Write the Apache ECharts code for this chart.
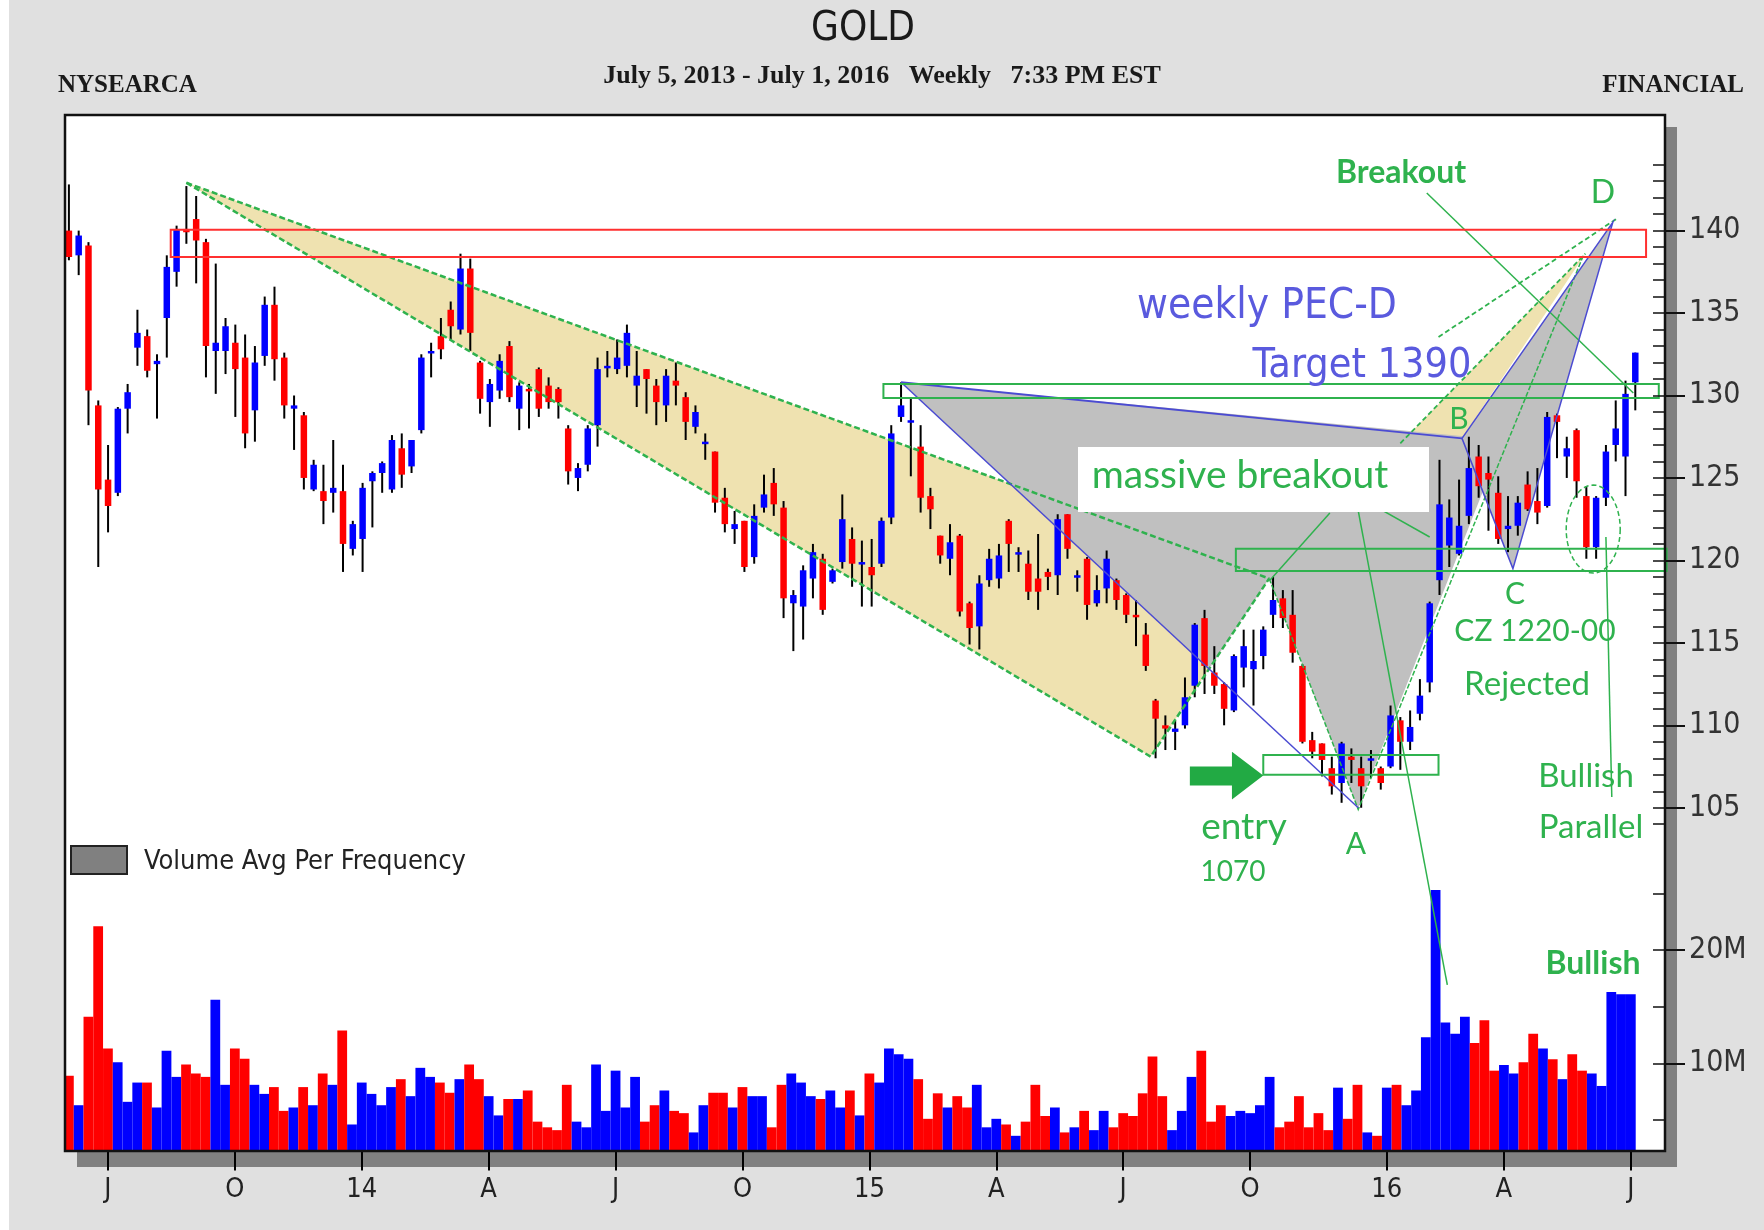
<!DOCTYPE html>
<html>
<head>
<meta charset="utf-8">
<title>GOLD weekly</title>
<script src="https://cdn.jsdelivr.net/npm/echarts/dist/echarts.min.js"></script>
<style>
  html, body { margin: 0; padding: 0; background: #e0e0e0; }
  #chart { width: 1764px; height: 1230px; }
</style>
</head>
<body>
<div id="chart"></div>
<script>
// weekly bars from the week of 2013-06-07: [open, high, low, close]
const weeklyBars = [
  [140.0,142.8,138.2,138.4],[138.5,140.0,137.3,139.7],[139.1,139.3,128.2,130.3],[129.4,129.7,119.6,124.3],
  [124.9,127.0,121.7,123.3],[124.1,129.3,123.9,129.2],[129.2,130.7,127.7,130.2],[132.9,135.2,131.8,133.8],
  [133.6,134.0,131.1,131.5],[131.9,132.5,128.6,132.1],[134.7,138.5,132.3,137.8],[137.5,140.3,136.6,140.1],
  [140.1,142.7,139.2,139.9],[140.7,142.1,136.8,139.4],[139.3,139.5,131.1,133.0],[132.7,138.0,130.1,133.2],
  [132.7,134.7,131.3,134.2],[133.2,134.3,128.7,131.6],[132.3,133.7,126.8,127.7],[129.1,133.0,127.2,132.0],
  [132.4,136.0,131.8,135.5],[135.5,136.6,130.9,132.2],[132.3,132.6,128.6,129.4],[129.2,130.0,126.7,129.4],
  [128.8,129.0,124.3,125.0],[124.3,126.1,124.2,125.8],[124.2,125.8,122.2,123.6],[124.1,127.3,122.9,124.4],
  [124.2,125.8,119.3,121.0],[120.7,122.4,120.3,122.2],[121.3,124.7,119.3,124.4],[124.8,125.4,122.0,125.3],
  [125.3,126.0,124.1,125.9],[124.3,127.6,124.1,127.3],[126.8,127.7,124.4,125.2],[125.7,127.3,125.3,127.3],
  [127.9,132.5,127.7,132.3],[132.6,133.2,131.1,132.7],[133.6,134.7,132.2,132.8],[135.2,135.7,133.4,134.2],
  [134.0,138.6,133.7,137.7],[137.7,138.3,132.7,133.8],[132.0,132.1,128.9,129.8],[129.6,131.0,128.1,130.7],
  [130.3,132.5,129.8,132.1],[133.0,133.3,129.6,129.9],[129.2,130.8,127.9,130.6],[130.4,130.7,128.0,130.3],
  [131.6,131.7,128.7,129.2],[130.6,131.1,129.2,129.6],[130.4,130.5,128.6,129.6],[128.0,128.2,124.6,125.4],
  [125.0,125.9,124.2,125.6],[125.8,128.2,125.4,128.0],[128.2,132.3,126.9,131.6],[131.7,132.7,131.1,131.8],
  [131.6,133.4,131.3,132.3],[131.8,134.3,131.1,133.8],[130.6,132.7,129.3,131.2],[131.6,131.6,128.9,131.0],
  [130.6,131.0,128.2,129.6],[129.4,131.6,128.4,131.2],[130.9,132.0,129.4,130.6],[129.9,130.2,127.3,128.4],
  [128.1,129.4,127.7,129.0],[127.1,127.7,126.1,127.2],[126.6,126.6,122.9,123.5],[123.8,124.4,121.7,122.2],
  [121.9,123.0,121.0,122.2],[122.4,122.4,119.3,119.6],[120.2,123.4,119.8,122.7],[123.2,125.2,122.9,124.0],
  [124.7,125.6,122.7,123.4],[123.2,123.6,116.5,117.7],[117.4,118.2,114.5,117.9],[117.2,119.7,115.2,119.4],
  [118.9,121.0,117.7,120.5],[120.1,120.4,116.7,117.0],[118.7,119.5,118.6,119.4],[119.9,124.0,119.5,122.5],
  [121.3,122.0,118.4,119.8],[119.8,121.2,117.2,119.9],[119.6,121.3,117.2,119.1],[119.8,122.6,119.6,122.4],
  [122.6,128.2,122.2,127.7],[128.7,130.8,128.4,129.4],[128.4,129.8,125.1,128.5],[126.9,128.2,122.9,123.8],
  [123.9,124.4,121.9,123.1],[121.5,121.5,119.8,120.3],[120.1,122.2,119.1,121.1],[121.5,121.6,116.6,116.9],
  [117.4,117.5,114.9,115.9],[116.0,119.1,114.6,118.6],[118.8,120.7,118.4,120.1],[118.9,121.0,118.3,120.3],
  [122.4,122.5,119.3,121.0],[120.4,120.8,119.3,120.5],[119.8,120.6,117.6,118.1],[118.9,121.6,117.0,118.1],
  [119.3,119.5,118.2,119.0],[119.1,122.8,117.9,122.5],[122.8,122.8,120.1,120.7],[119.0,119.4,118.1,119.1],
  [120.1,120.2,116.4,117.3],[117.4,119.1,117.2,118.2],[118.3,120.6,117.4,120.1],[118.8,118.9,117.0,117.6],
  [117.9,118.0,116.2,116.7],[116.7,117.6,114.8,116.6],[115.5,116.2,113.3,113.6],[111.5,111.6,108.0,110.4],
  [110.0,110.6,108.5,109.8],[109.6,110.3,108.5,109.8],[110.0,112.9,109.8,111.7],[112.4,116.2,111.7,116.1],
  [116.5,117.0,111.9,113.6],[113.2,114.8,111.9,112.4],[112.5,112.6,110.0,111.0],[110.9,114.3,110.8,114.2],
  [113.5,115.8,112.3,114.8],[113.4,115.8,111.2,113.9],[114.2,116.0,113.4,115.8],[116.7,119.0,115.9,117.6],
  [117.7,118.2,115.9,116.5],[116.7,118.2,113.8,114.4],[113.6,113.7,108.9,109.0],[109.1,109.6,108.0,108.4],
  [108.9,108.9,106.9,107.9],[107.4,108.1,105.8,106.3],[106.5,109.0,105.3,108.9],[108.1,108.6,106.5,107.9],
  [107.4,108.1,105.0,106.3],[107.9,108.5,106.8,108.0],[107.4,107.5,106.1,106.5],[107.5,111.2,107.4,110.6],
  [110.3,110.5,107.3,109.0],[109.0,110.9,108.5,109.9],[110.7,112.8,110.3,111.8],[112.6,117.5,112.0,117.4],
  [118.8,126.1,117.9,123.4],[120.9,123.7,119.6,122.6],[120.4,124.9,120.3,122.1],[122.7,127.5,122.2,125.6],
  [126.3,127.0,123.8,124.5],[125.3,126.3,121.8,124.9],[124.1,125.1,121.0,121.3],[121.9,123.9,120.5,122.1],
  [122.1,123.9,121.5,123.5],[124.6,125.4,123.0,123.1],[123.6,125.6,122.2,122.9],[123.3,129.0,123.2,128.7],
  [128.8,128.9,126.2,128.4],[126.3,127.5,125.0,126.8],[127.9,128.0,123.8,124.8],[123.9,124.5,120.1,120.8],
  [120.8,123.9,120.1,123.8],[123.8,127.0,123.3,126.6],[127.0,129.7,126.0,128.0],[126.3,130.9,123.9,130.1],
  [130.8,132.6,129.1,132.6]
];

// weekly volume, millions of shares
const volumeM = [
  8.9, 6.3, 14.1, 22.1, 11.3, 10.1, 6.6, 8.3, 8.3, 6.1,
  11.1, 8.8, 9.9, 9.1, 8.8, 15.6, 8.1, 11.3, 10.4, 8.1,
  7.3, 7.9, 5.8, 6.1, 7.9, 6.3, 9.1, 8.1, 12.9, 4.6,
  8.3, 7.3, 6.3, 7.9, 8.6, 7.1, 9.6, 8.8, 8.3, 7.4,
  8.6, 9.9, 8.6, 7.1, 5.4, 6.85, 6.85, 7.6, 4.85, 4.35,
  4.1, 8.1, 4.85, 4.35, 9.9, 5.8, 9.35, 6.1, 8.8, 4.85,
  6.3, 7.6, 5.8, 5.6, 3.9, 6.3, 7.4, 7.4, 6.1, 7.9,
  7.1, 7.1, 4.35, 8.1, 9.1, 8.3, 7.1, 6.85, 7.6, 6.1,
  7.6, 5.4, 9.1, 8.3, 11.3, 10.8, 10.4, 8.6, 5.1, 7.35,
  6.1, 7.1, 6.1, 8.1, 4.35, 5.1, 4.6, 3.6, 4.85, 8.1,
  5.35, 6.1, 3.9, 4.35, 5.8, 4.1, 5.8, 4.35, 5.6, 5.35,
  7.35, 10.6, 7.1, 4.1, 5.8, 8.8, 11.1, 4.85, 6.3, 5.35,
  5.8, 5.6, 6.3, 8.8, 4.35, 4.85, 7.1, 4.35, 5.6, 4.1,
  7.85, 5.1, 8.1, 3.9, 3.6, 7.85, 8.1, 6.3, 7.6, 12.3,
  25.3, 13.6, 12.6, 14.1, 11.8, 13.8, 9.35, 9.85, 9.1, 10.1,
  12.6, 11.3, 10.35, 8.6, 10.8, 9.35, 9.1, 8.0, 16.3, 16.1,
  16.1
];

// quarter marks on the time axis (bar index -> label)
const quarterTicks = { 4: 'J', 17: 'O', 30: '14', 43: 'A', 56: 'J', 69: 'O', 82: '15',
  95: 'A', 108: 'J', 121: 'O', 135: '16', 147: 'A', 160: 'J' };

// drawn annotations, points are [bar index, price]
const redZone = [[10.4, 140.05], [161.1, 138.4]];
const wedgeZone = [[12.0, 142.9], [122.6, 118.9], [110.5, 108.1]];
const sliverZone = [[136.0, 127.1], [154.9, 138.6], [142.3, 127.4]];
const grayZoneXA = [[85.0, 130.8], [131.7, 105.0], [146.5, 127.3]];
const grayZoneCD = [[142.3, 127.4], [147.5, 119.5], [157.7, 140.5]];
const clearZone = [[110.5, 108.1], [122.6, 118.9], [131.7, 104.9]];
const boxes130 = [[83.2, 130.7], [162.4, 129.85]];
const boxes120 = [[119.2, 120.7], [163.2, 119.36]];
const entryBox = [[122.0, 108.2], [139.9, 107.0]];
const entryArrow = [[114.5, 107.5], [118.8, 107.5], [118.8, 108.4], [122.0, 106.95],
  [118.8, 105.5], [118.8, 106.35], [114.5, 106.35]];
const wedgeUpper = [[12.0, 142.9], [122.6, 118.9]];
const wedgeLower = [[12.0, 142.9], [110.5, 108.1], [122.6, 118.9]];
const legsBA = [[122.6, 118.9], [131.7, 104.9], [154.7, 138.5]];
const sliverEdge = [[136.0, 127.1], [154.9, 138.6]];
const pecdPointer = [[139.9, 133.55], [158.2, 140.76]];
const breakoutPointer = [[138.7, 142.28], [159.8, 130.15]];
const labelToB = [[128.8, 122.87], [122.7, 118.81]];
const labelToBar = [[131.4, 123.96], [139.0, 121.42]];
const labelToVolume = [[131.4, 123.96], [140.8, 94.26]];
const parallelLine = [[157.0, 121.42], [157.6, 105.65]];
const rejectEllipse = [155.7, 121.9, 2.76, 2.67]; // center x, center y, radius x, radius y
const legXA = [[85.0, 130.8], [131.7, 105.0]];
const legXB = [[85.0, 130.8], [142.3, 127.4]];
const legsBCD = [[142.3, 127.4], [147.5, 119.5], [157.7, 140.5], [142.3, 127.4]];

const UP = '#0000ff', DOWN = '#ff0000';
const GREEN = '#2fb24e', LINE_BLUE = '#4b4bd2', WHEAT = '#efe2b0', GRAY = '#c0c0c0';
const NARROW = '"Liberation Sans Narrow", "DejaVu Sans Condensed", sans-serif';
const SERIF = '"Liberation Serif", "DejaVu Serif", serif';
const HAND = 'Lato, "Open Sans", sans-serif';

const N_SLOTS = 164;
const dates = [];
for (let i = 0; i < N_SLOTS; i++) {
  dates.push(new Date(Date.UTC(2013, 5, 7 + 7 * i)).toISOString().slice(0, 10));
}

// layout of the plot box
const LEFT = 64, WIDTH = 1601, BAR_STEP = 9.79;
const X_MAX = -0.5 + WIDTH / BAR_STEP;
const priceY = p => 230.6 + (140 - p) * 16.49;
const volY = v => 1063.3 + (10 - v) * 11.33;

const chart = echarts.init(document.getElementById('chart'));

function pts(api, list) { return list.map(p => api.coord(p)); }
function poly(api, list, fill) {
  return { type: 'polygon', shape: { points: pts(api, list) }, style: { fill: fill } };
}
function path(api, list, color, width, dash) {
  return { type: 'polyline', shape: { points: pts(api, list) },
    style: { stroke: color, lineWidth: width, lineDash: dash || null, fill: 'none' } };
}
function box(api, corners, color) {
  const a = api.coord(corners[0]), b = api.coord(corners[1]);
  return { type: 'rect',
    shape: { x: Math.min(a[0], b[0]), y: Math.min(a[1], b[1]), width: Math.abs(b[0] - a[0]), height: Math.abs(b[1] - a[1]) },
    style: { fill: 'none', stroke: color, lineWidth: 2 } };
}
function ellipse(api, e) {
  const c = api.coord([e[0], e[1]]);
  const s = api.size([e[2], e[3]]);
  const out = [];
  for (let k = 0; k < 60; k++) {
    const a = k / 60 * Math.PI * 2;
    out.push([c[0] + s[0] * Math.cos(a), c[1] + s[1] * Math.sin(a)]);
  }
  return { type: 'polygon', shape: { points: out },
    style: { fill: 'none', stroke: GREEN, lineWidth: 1.5, lineDash: [5, 3] } };
}

function overlay(z, build) {
  return { type: 'custom', xAxisIndex: 0, yAxisIndex: 0, z: z, silent: true, clip: false,
    data: [[0, 120]], renderItem: (params, api) => ({ type: 'group', children: build(api) }) };
}

function drawCandle(params, api) {
  const i = api.value(0);
  const o = api.value(1), h = api.value(2), l = api.value(3), c = api.value(4);
  const top = api.coord([i, Math.max(o, c)]);
  const bot = api.coord([i, Math.min(o, c)]);
  const hi = api.coord([i, h]);
  const lo = api.coord([i, l]);
  const w = 6.5;
  return {
    type: 'group',
    children: [
      { type: 'line', shape: { x1: hi[0], y1: hi[1], x2: lo[0], y2: lo[1] }, style: { stroke: '#000', lineWidth: 2 } },
      { type: 'rect', shape: { x: top[0] - w / 2, y: top[1], width: w, height: Math.max(bot[1] - top[1], 2.5) },
        style: { fill: c >= o ? UP : DOWN } }
    ]
  };
}

function txt(x, y, text, font, fill, align) {
  return { type: 'text', x: x, y: y, z: 21,
    style: { text: text, font: font, fill: fill, textAlign: align || 'center', textVerticalAlign: 'middle' } };
}

const hiddenX = gi => ({ gridIndex: gi, type: 'value', min: -0.5, max: X_MAX, show: false });

// y axes sit on the right edge of the box, never on the x origin
function rightAxis(gi, min, max, interval, inside, len, label) {
  return {
    gridIndex: gi, type: 'value', position: 'right', min: min, max: max, interval: interval, z: 10,
    axisLine: { show: false, onZero: false },
    splitLine: { show: false },
    axisTick: { inside: inside, length: len, lineStyle: { color: '#111', width: inside ? 1.5 : 2 } },
    axisLabel: label ? Object.assign({ color: '#333', fontFamily: NARROW, fontSize: 30, margin: 24 }, label) : { show: false }
  };
}

const option = {
  backgroundColor: '#e0e0e0',
  animation: false,
  grid: [
    { left: LEFT, width: WIDTH, top: priceY(144), height: priceY(104) - priceY(144), outerBoundsMode: 'none' },
    { left: LEFT, width: WIDTH, top: priceY(140), height: priceY(105) - priceY(140), outerBoundsMode: 'none' },
    { left: LEFT, width: WIDTH, top: volY(26), height: volY(2.3) - volY(26), outerBoundsMode: 'none' },
    { left: LEFT, width: WIDTH, top: volY(25), height: volY(5) - volY(25), outerBoundsMode: 'none' },
    { left: LEFT, width: WIDTH, top: volY(20), height: volY(10) - volY(20), outerBoundsMode: 'none' }
  ],
  xAxis: [
    hiddenX(0), hiddenX(1),
    {
      gridIndex: 2, type: 'category', data: dates, boundaryGap: true, z: 10,
      axisLine: { show: false, onZero: false },
      axisTick: { show: true, alignWithLabel: true, length: 20,
        interval: idx => quarterTicks[idx] !== undefined, lineStyle: { color: '#000', width: 2 } },
      axisLabel: { interval: idx => quarterTicks[idx] !== undefined,
        formatter: (v, idx) => quarterTicks[idx] || '',
        color: '#222', fontFamily: NARROW, fontSize: 27, margin: 26 },
      splitLine: { show: false }
    },
    hiddenX(3), hiddenX(4)
  ],
  yAxis: [
    rightAxis(0, 104, 144, 1, true, 12, null),
    rightAxis(1, 105, 140, 5, false, 20, {}),
    { gridIndex: 2, type: 'value', min: 2.3, max: 26, startValue: 2.3, show: false,
      axisLine: { onZero: false } },
    rightAxis(3, 5, 25, 5, true, 12, null),
    rightAxis(4, 10, 20, 10, false, 20, { formatter: v => v + 'M' })
  ],
  graphic: [
    { type: 'rect', z: 0, shape: { x: 0, y: 0, width: 9, height: 1230 }, style: { fill: '#ffffff' } },
    { type: 'rect', z: 0, shape: { x: 77, y: 127, width: 1600, height: 1040 }, style: { fill: '#808080' } },
    { type: 'rect', z: 1, shape: { x: 65, y: 115, width: 1600, height: 1036 }, style: { fill: '#ffffff' } },
    { type: 'rect', z: 20, shape: { x: 65, y: 115, width: 1600, height: 1036 },
      style: { fill: 'none', stroke: '#111', lineWidth: 2.5 } },
    { type: 'rect', z: 20, shape: { x: 1078, y: 447, width: 351, height: 65 }, style: { fill: '#ffffff' } },
    { type: 'rect', z: 20, shape: { x: 71, y: 846, width: 56, height: 28 },
      style: { fill: '#808080', stroke: '#222', lineWidth: 2 } },
    txt(144, 862, 'Volume Avg Per Frequency', '27px ' + NARROW, '#222', 'left'),
    txt(863, 30, 'GOLD', '40px ' + NARROW, '#1a1a1a'),
    txt(882, 76, 'July 5, 2013 - July 1, 2016   Weekly   7:33 PM EST', 'bold 26px ' + SERIF, '#1a1a1a'),
    txt(58, 86, 'NYSEARCA', 'bold 25px ' + SERIF, '#1a1a1a', 'left'),
    txt(1744, 86, 'FINANCIAL', 'bold 25px ' + SERIF, '#1a1a1a', 'right'),
    txt(1401, 173, 'Breakout', 'bold 32px ' + HAND, GREEN),
    txt(1603, 193, 'D', '32px ' + HAND, GREEN),
    txt(1267, 307, 'weekly PEC-D', '42px ' + NARROW, '#5a5ade'),
    txt(1362, 366, 'Target 1390', '41px ' + NARROW, '#5a5ade'),
    txt(1240, 475, 'massive breakout', '39px ' + HAND, GREEN),
    txt(1244, 827, 'entry', '37px ' + HAND, GREEN),
    txt(1233, 872, '1070', '28px ' + HAND, GREEN),
    txt(1356, 844, 'A', '30px ' + HAND, GREEN),
    txt(1459, 419, 'B', '30px ' + HAND, GREEN),
    txt(1515, 594, 'C', '30px ' + HAND, GREEN),
    txt(1535, 631, 'CZ 1220-00', '30px ' + HAND, GREEN),
    txt(1527, 684, 'Rejected', '33px ' + HAND, GREEN),
    txt(1586, 776, 'Bullish', '33px ' + HAND, GREEN),
    txt(1591, 827, 'Parallel', '33px ' + HAND, GREEN),
    txt(1593, 964, 'Bullish', 'bold 32px ' + HAND, GREEN)
  ],
  series: [
    overlay(2, api => [
      poly(api, wedgeZone, WHEAT),
      poly(api, sliverZone, WHEAT),
      poly(api, grayZoneXA, GRAY),
      poly(api, grayZoneCD, GRAY),
      poly(api, clearZone, '#ffffff')
    ]),
    {
      type: 'bar', xAxisIndex: 2, yAxisIndex: 2, z: 3, clip: true, silent: true,
      barCategoryGap: '0%', barGap: '0%',
      data: volumeM.map((v, i) => ({ value: v,
        itemStyle: { color: weeklyBars[i][3] >= weeklyBars[i][0] ? UP : DOWN } }))
    },
    {
      type: 'custom', xAxisIndex: 0, yAxisIndex: 0, z: 3, silent: true,
      encode: { x: 0, y: [1, 2, 3, 4] },
      data: weeklyBars.map((b, i) => [i, b[0], b[1], b[2], b[3]]),
      renderItem: drawCandle
    },
    overlay(4, api => [
      path(api, wedgeUpper, GREEN, 2.5, [6, 3]),
      path(api, wedgeLower, GREEN, 2.5, [6, 3]),
      path(api, legsBA, GREEN, 1.5, [5, 2]),
      path(api, sliverEdge, GREEN, 1.8, [5, 3]),
      path(api, pecdPointer, GREEN, 1.8, [5, 3]),
      path(api, breakoutPointer, GREEN, 1.5),
      path(api, labelToB, GREEN, 1.5),
      path(api, labelToBar, GREEN, 1.5),
      path(api, labelToVolume, GREEN, 1.5),
      path(api, parallelLine, GREEN, 1.5),
      ellipse(api, rejectEllipse),
      path(api, legXA, LINE_BLUE, 1.5),
      path(api, legXB, LINE_BLUE, 2),
      path(api, legsBCD, LINE_BLUE, 1.5),
      box(api, redZone, '#ff3030'),
      box(api, boxes130, GREEN),
      box(api, boxes120, GREEN),
      box(api, entryBox, GREEN),
      poly(api, entryArrow, '#22aa44')
    ])
  ]
};

chart.setOption(option);
</script>
</body>
</html>
